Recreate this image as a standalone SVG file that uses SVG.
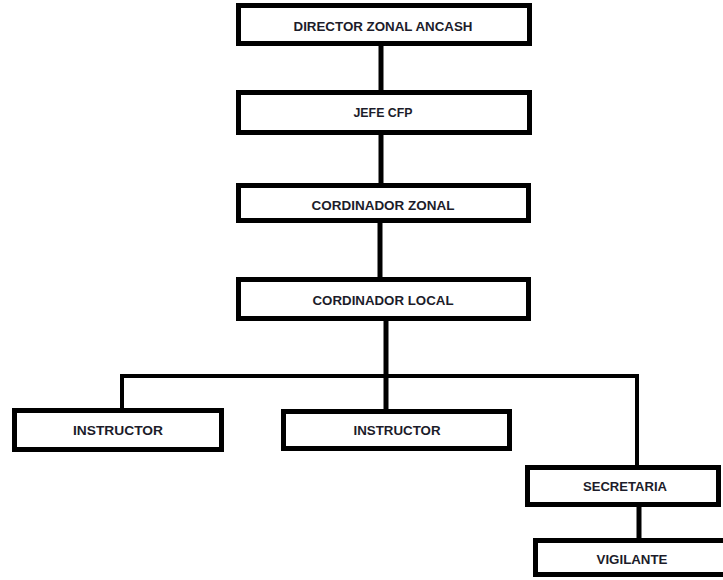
<svg xmlns="http://www.w3.org/2000/svg" width="723" height="580" viewBox="0 0 723 580">
  <style>
    .box { fill: #ffffff; stroke: #000000; stroke-width: 5; }
    .link { fill: none; stroke: #000000; stroke-width: 5; stroke-linecap: square; }
    .lbl { font-family: "Liberation Sans", Arial, sans-serif; font-weight: bold; font-size: 12px; fill: #1c1c2a; text-anchor: middle; }
  </style>
  <rect width="723" height="580" fill="#ffffff"/>

  <!-- connectors -->
  <g id="connectors">
    <line class="link" x1="381" y1="46" x2="381" y2="90"/>
    <line class="link" x1="381" y1="135" x2="381" y2="183"/>
    <line class="link" x1="380" y1="223" x2="380" y2="277"/>
    <line class="link" x1="386" y1="321" x2="386" y2="409"/>
    <polyline class="link" style="stroke-width:4" points="122,408 122,376 637,376 637,465"/>
    <line class="link" x1="639" y1="507" x2="639" y2="538"/>
  </g>

  <g id="director">
    <rect class="box" x="238.5" y="5.5" width="291" height="38"/>
    <text class="lbl" x="383" y="31" textLength="179" lengthAdjust="spacingAndGlyphs">DIRECTOR ZONAL ANCASH</text>
  </g>
  <g id="jefe">
    <rect class="box" x="238.5" y="92.5" width="291" height="40"/>
    <text class="lbl" x="383" y="117" textLength="59" lengthAdjust="spacingAndGlyphs">JEFE CFP</text>
  </g>
  <g id="coord-zonal">
    <rect class="box" x="238.5" y="185.5" width="290" height="35"/>
    <text class="lbl" x="383" y="210" textLength="143" lengthAdjust="spacingAndGlyphs">CORDINADOR ZONAL</text>
  </g>
  <g id="coord-local">
    <rect class="box" x="238.5" y="279.5" width="290" height="39"/>
    <text class="lbl" x="383" y="305" textLength="141" lengthAdjust="spacingAndGlyphs">CORDINADOR LOCAL</text>
  </g>
  <g id="instructor-1">
    <rect class="box" x="14.5" y="410.5" width="207" height="39"/>
    <text class="lbl" x="118" y="435" textLength="90" lengthAdjust="spacingAndGlyphs">INSTRUCTOR</text>
  </g>
  <g id="instructor-2">
    <rect class="box" x="283.5" y="411.5" width="226" height="37"/>
    <text class="lbl" x="397" y="435" textLength="87" lengthAdjust="spacingAndGlyphs">INSTRUCTOR</text>
  </g>
  <g id="secretaria">
    <rect class="box" x="527.5" y="467.5" width="191" height="37"/>
    <text class="lbl" x="625" y="491" textLength="84" lengthAdjust="spacingAndGlyphs">SECRETARIA</text>
  </g>
  <g id="vigilante">
    <rect class="box" x="535.5" y="540.5" width="200" height="34"/>
    <text class="lbl" x="632" y="564" textLength="71" lengthAdjust="spacingAndGlyphs">VIGILANTE</text>
  </g>
</svg>
